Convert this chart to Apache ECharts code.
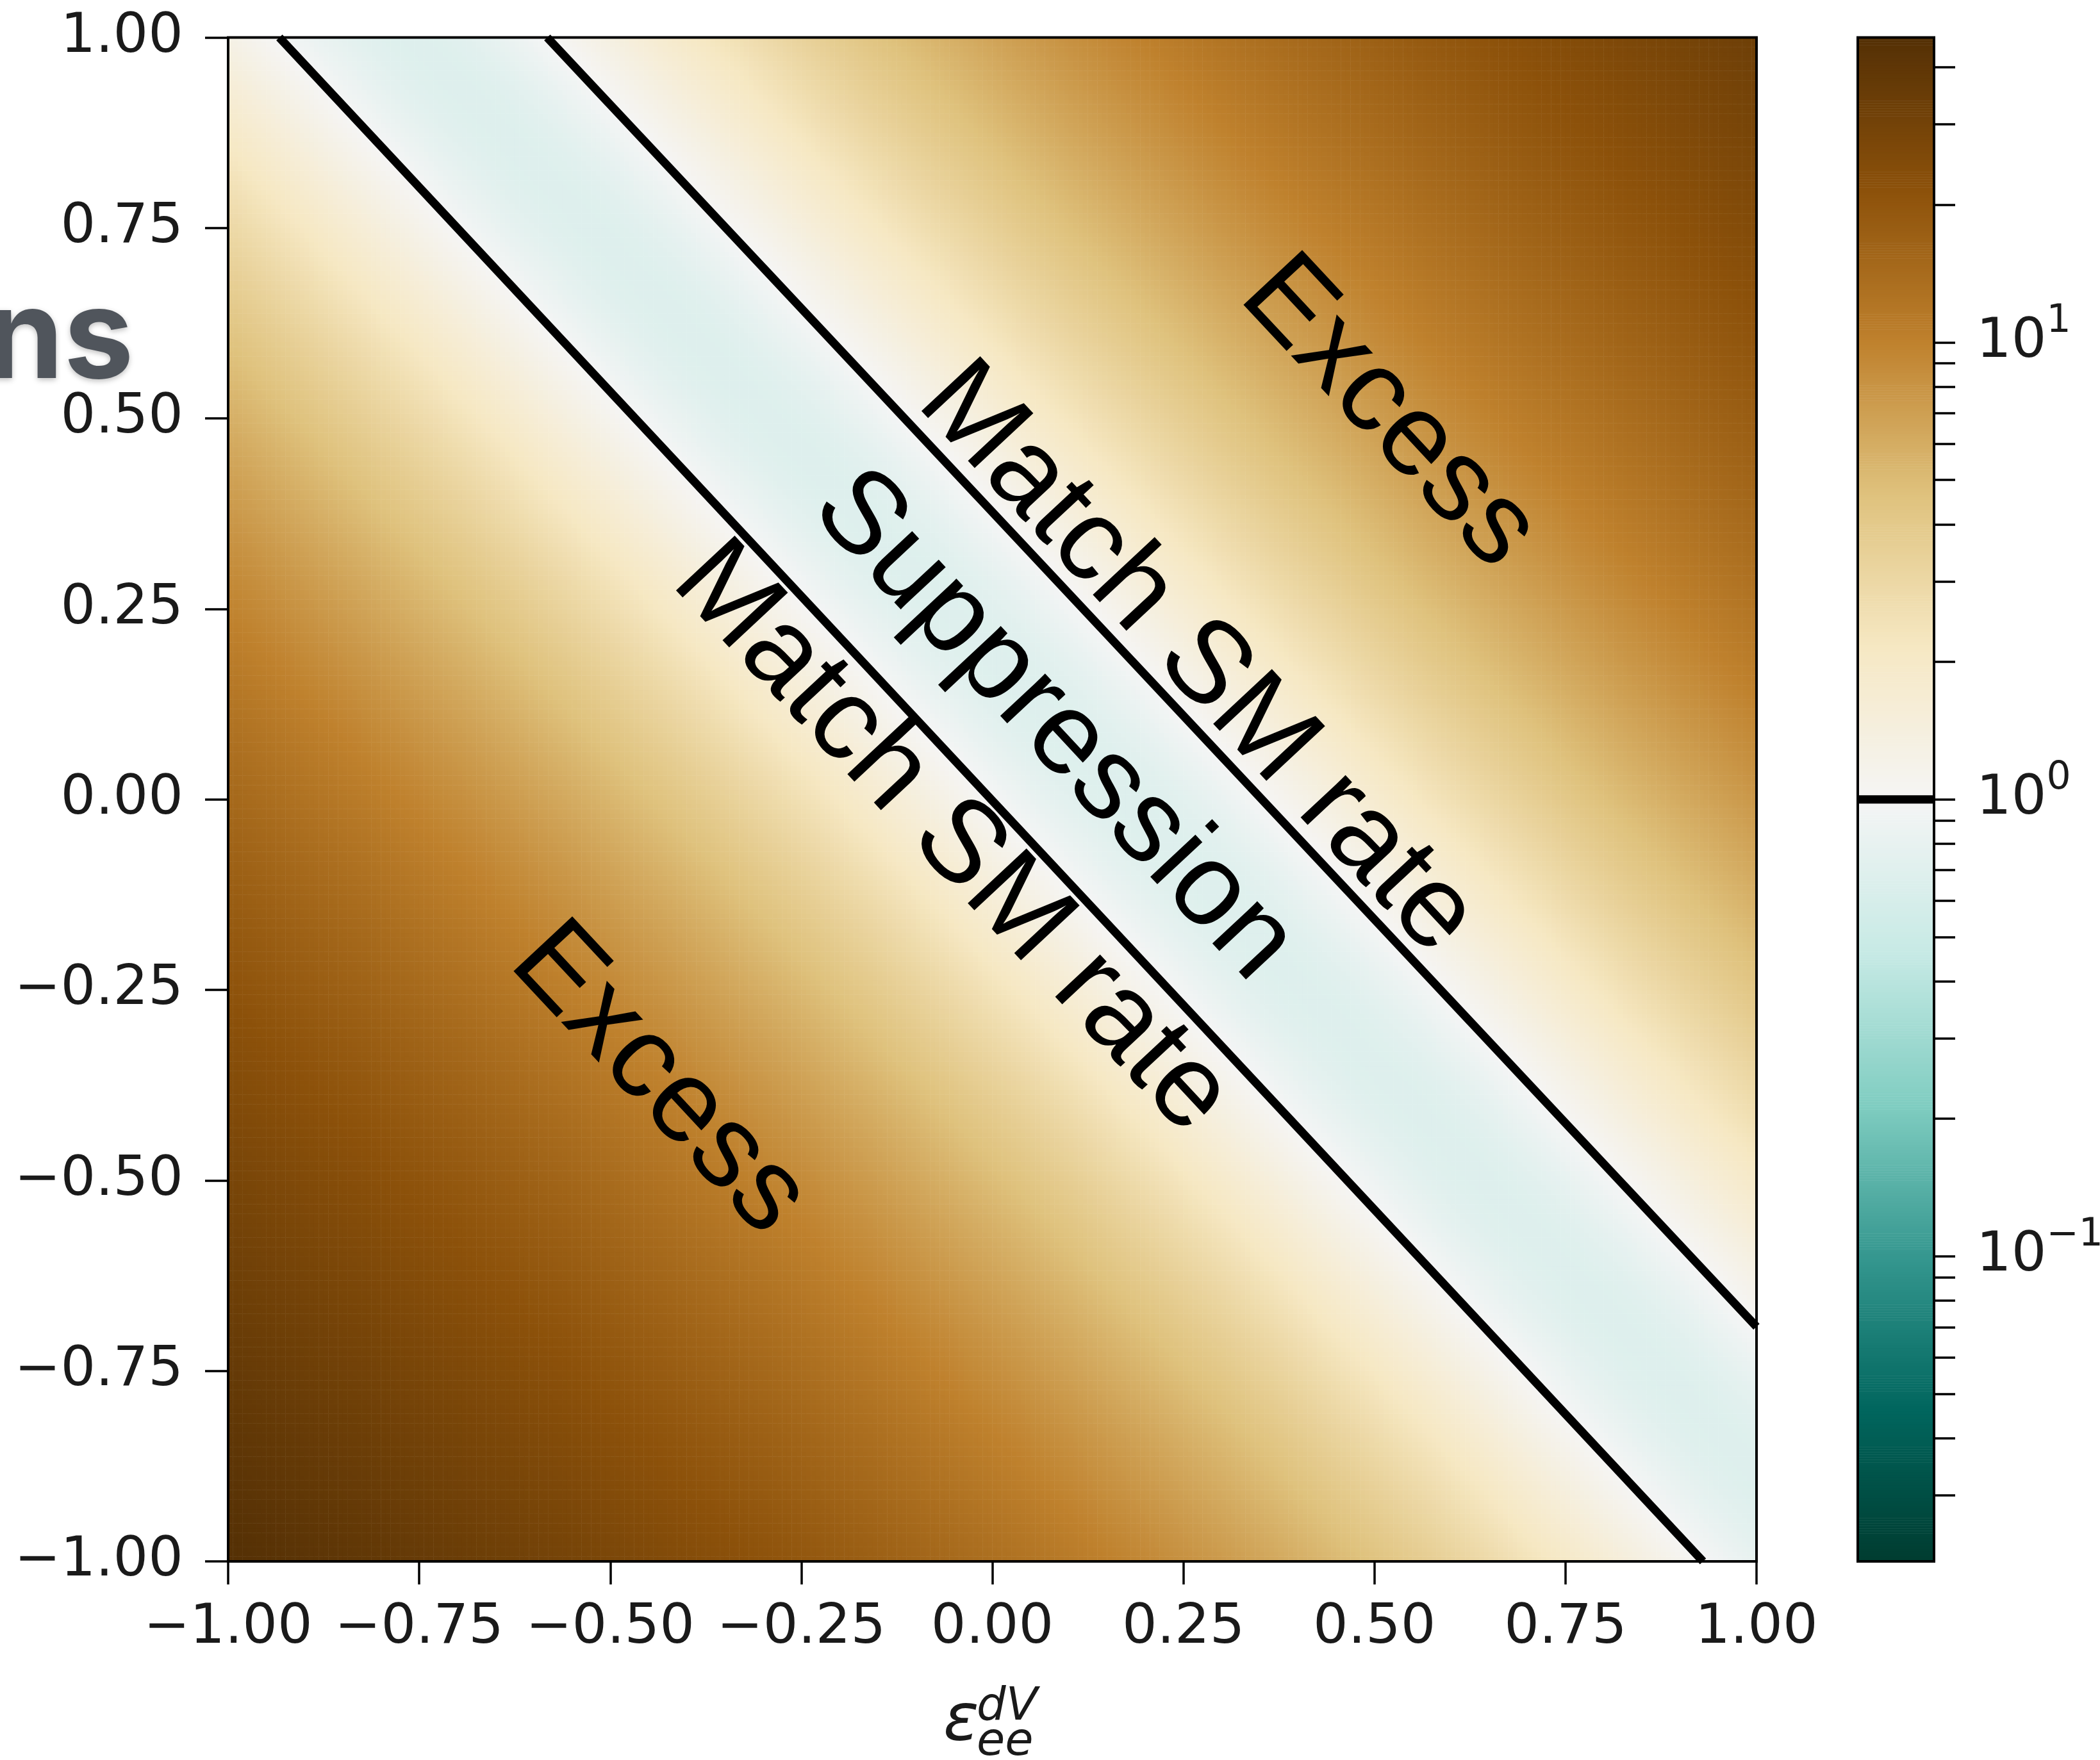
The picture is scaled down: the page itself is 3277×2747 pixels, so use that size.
<!DOCTYPE html>
<html><head><meta charset="utf-8">
<script src="https://cdn.jsdelivr.net/npm/echarts@6/dist/echarts.min.js"></script>
<style>html,body{margin:0;padding:0;background:#fff}#c{width:3277px;height:2747px}</style>
</head><body><div id="c"></div>
<script>
// ---- values ----
const xTicks = [-1, -0.75, -0.5, -0.25, 0, 0.25, 0.5, 0.75, 1];
const yTicks = [-1, -0.75, -0.5, -0.25, 0, 0.25, 0.5, 0.75, 1];
// the two "rate ratio = 1" contour lines (where they meet the frame)
const contourLow = [[-0.933, 1.0], [0.930, -1.0]];
const contourHigh = [[-0.5825, 1.0], [1.0, -0.692]];
// ratio at the centre of the suppression band (lightest teal)
const ratioFloor = [0.677];
// colour-bar range (log norm)
const colorRange = [0.0215, 46.5];
const cbarMajor = [0.1, 1, 10];
const cbarMinor = [0.03, 0.04, 0.05, 0.06, 0.07, 0.08, 0.09, 0.2, 0.3, 0.4, 0.5, 0.6, 0.7, 0.8, 0.9, 2, 3, 4, 5, 6, 7, 8, 9, 20, 30, 40];
const cbarLevel = [1];
const regionLabels = ['Excess', 'Match SM rate', 'Suppression', 'Match SM rate', 'Excess'];
const brbgR = ['#003c30', '#01665e', '#35978f', '#80cdc1', '#c7eae5', '#f5f5f5', '#f6e8c3', '#dfc27d', '#bf812d', '#8c510a', '#543005'];

// ---- field: ratio of rates as a function of the two couplings ----
function norm(v) { const l = Math.hypot(v[0], v[1]); return [v[0] / l, v[1] / l]; }
const nL = norm([contourLow[0][1] - contourLow[1][1], contourLow[1][0] - contourLow[0][0]]);
const nH = norm([contourHigh[0][1] - contourHigh[1][1], contourHigh[1][0] - contourHigh[0][0]]);
const nrm = norm([nL[0] + nH[0], nL[1] + nH[1]]);
const dot = (p) => nrm[0] * p[0] + nrm[1] * p[1];
const dLow = (dot(contourLow[0]) + dot(contourLow[1])) / 2;
const dHigh = (dot(contourHigh[0]) + dot(contourHigh[1])) / 2;
const bg = ratioFloor[0] / (1 - ratioFloor[0]);
const lo = Math.log10(colorRange[0]), hi = Math.log10(colorRange[1]);
function ratio(x, y) {
  const u = 1 - 2 * (dot([x, y]) - dLow) / (dHigh - dLow);
  return (u * u + bg) / (1 + bg);
}
const N = 320;
const cats = [];
for (let i = 0; i < N; i++) cats.push(String(i));
const heat = [];
for (let i = 0; i < N; i++) {
  const x = -1 + (i + 0.5) * 2 / N;
  for (let j = 0; j < N; j++) {
    const y = -1 + (j + 0.5) * 2 / N;
    let v = Math.log10(ratio(x, y));
    v = Math.max(lo, Math.min(hi, v));
    heat.push([i, j, v]);
  }
}
const M = 600;
const cbCats = [];
const cbData = [];
for (let j = 0; j < M; j++) {
  cbCats.push(String(j));
  cbData.push([0, j, lo + (j + 0.5) * (hi - lo) / M]);
}

const fmt = (v) => (v < 0 ? '\u2212' : '') + Math.abs(v).toFixed(2);
const tickFont = { fontFamily: 'DejaVu Sans', fontSize: 86, color: '#1a1a1a' };

const G = { left: 356, top: 58.5, width: 2385, height: 2378.5 };
const CB = { left: 2899, top: 58.5, width: 119, height: 2378.5 };
const rot = -47 * Math.PI / 180;
const labelPos = [[2167, 645], [1868, 1029], [1644, 1133], [1485, 1309], [1028, 1685]];

const chart = echarts.init(document.getElementById('c'), null, { renderer: 'canvas' });
chart.setOption({
  backgroundColor: '#ffffff',
  animation: false,
  grid: [
    { left: G.left, top: G.top, width: G.width, height: G.height, containLabel: false, outerBoundsMode: 'none' },
    { left: CB.left, top: CB.top, width: CB.width, height: CB.height, containLabel: false, outerBoundsMode: 'none' }
  ],
  visualMap: {
    type: 'continuous', show: false, min: lo, max: hi, dimension: 2,
    seriesIndex: [0, 1], inRange: { color: brbgR }
  },
  xAxis: [
    { gridIndex: 0, type: 'category', data: cats, show: false },
    { gridIndex: 0, type: 'value', min: xTicks[0], max: xTicks[xTicks.length - 1], interval: 0.25,
      position: 'bottom', z: 10,
      axisLine: { show: false, onZero: false },
      axisTick: { show: true, length: 36, lineStyle: { color: '#000', width: 3.5 } },
      axisLabel: Object.assign({ margin: 62, formatter: fmt, showMinLabel: true, showMaxLabel: true }, tickFont),
      splitLine: { show: false } },
    { gridIndex: 1, type: 'category', data: ['0'], show: false },
    { gridIndex: 1, type: 'value', min: 0, max: 1, show: false }
  ],
  yAxis: [
    { gridIndex: 0, type: 'category', data: cats, show: false },
    { gridIndex: 0, type: 'value', min: yTicks[0], max: yTicks[yTicks.length - 1], interval: 0.25,
      position: 'left', z: 10,
      axisLine: { show: false, onZero: false },
      axisTick: { show: true, length: 36, lineStyle: { color: '#000', width: 3.5 } },
      axisLabel: Object.assign({ margin: 70, formatter: fmt, padding: [12, 0, 0, 0], showMinLabel: true, showMaxLabel: true }, tickFont),
      splitLine: { show: false } },
    { gridIndex: 1, type: 'category', data: cbCats, show: false },
    { gridIndex: 1, type: 'value', min: lo, max: hi, position: 'right', z: 10,
      axisLine: { show: false },
      axisTick: { show: true, length: 33, customValues: cbarMinor.concat(cbarMajor).map(Math.log10),
        lineStyle: { color: '#000', width: 3.5 } },
      axisLabel: Object.assign({ margin: 66,
        customValues: cbarMajor.map(Math.log10),
        formatter: (v) => { const e = Math.round(v); return '{b|10}{s|' + (e < 0 ? '\u2212' : '') + Math.abs(e) + '}'; },
        rich: {
          b: { fontFamily: 'DejaVu Sans', fontSize: 86, color: '#1a1a1a', lineHeight: 124, verticalAlign: 'middle' },
          s: { fontFamily: 'DejaVu Sans', fontSize: 60, color: '#1a1a1a', lineHeight: 60, verticalAlign: 'top' }
        } }, tickFont),
      splitLine: { show: false } }
  ],
  series: [
    { type: 'heatmap', xAxisIndex: 0, yAxisIndex: 0, data: heat, progressive: 0, silent: true,
      emphasis: { disabled: true } },
    { type: 'heatmap', xAxisIndex: 2, yAxisIndex: 2, data: cbData, progressive: 0, silent: true,
      emphasis: { disabled: true } },
    { type: 'line', xAxisIndex: 1, yAxisIndex: 1, data: contourLow, symbol: 'none', silent: true, z: 5,
      lineStyle: { color: '#000', width: 13 } },
    { type: 'line', xAxisIndex: 1, yAxisIndex: 1, data: contourHigh, symbol: 'none', silent: true, z: 5,
      lineStyle: { color: '#000', width: 13 } },
    { type: 'line', xAxisIndex: 3, yAxisIndex: 3, data: [[0, Math.log10(cbarLevel[0])], [1, Math.log10(cbarLevel[0])]],
      symbol: 'none', silent: true, z: 5, lineStyle: { color: '#000', width: 13 } }
  ],
  graphic: [
    { type: 'rect', z: 100, silent: true, shape: { x: G.left, y: G.top, width: G.width, height: G.height },
      style: { fill: null, stroke: '#000', lineWidth: 4 } },
    { type: 'rect', z: 100, silent: true, shape: { x: CB.left, y: CB.top, width: CB.width, height: CB.height },
      style: { fill: null, stroke: '#000', lineWidth: 4 } }
  ].concat(regionLabels.map((t, k) => ({
    type: 'text', z: 60, silent: true, x: labelPos[k][0], y: labelPos[k][1], rotation: rot,
    style: { text: t, fontFamily: 'Liberation Sans', fontSize: 182, fill: '#000', align: 'center', verticalAlign: 'middle' }
  }))).concat([
    { type: 'text', z: 60, silent: true, x: 1472, y: 2689,
      style: { text: '\u03b5', fontFamily: 'DejaVu Sans', fontStyle: 'italic', fontSize: 103, fill: '#1a1a1a', align: 'left', verticalAlign: 'middle' } },
    { type: 'text', z: 60, silent: true, x: 1524, y: 2665,
      style: { text: 'dV', fontFamily: 'DejaVu Sans', fontStyle: 'italic', fontSize: 72, fill: '#1a1a1a', align: 'left', verticalAlign: 'middle' } },
    { type: 'text', z: 60, silent: true, x: 1524, y: 2720,
      style: { text: 'ee', fontFamily: 'DejaVu Sans', fontStyle: 'italic', fontSize: 72, fill: '#1a1a1a', align: 'left', verticalAlign: 'middle' } },
    { type: 'text', z: 60, silent: true, x: -22, y: 531,
      style: { text: 'ns', fontFamily: 'Inter', fontWeight: 'bold', fontSize: 195, fill: '#50555c', align: 'left', verticalAlign: 'middle',
        textShadowColor: 'rgba(0,0,0,0.25)', textShadowBlur: 8, textShadowOffsetY: 3 } }
  ])
});
</script>
</body></html>
